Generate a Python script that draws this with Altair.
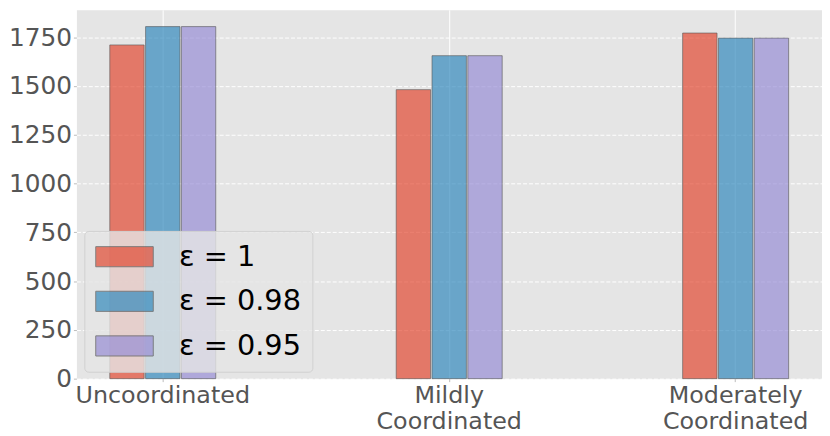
import altair as alt
import pandas as pd

categories = ["Uncoordinated", "Mildly\nCoordinated", "Moderately\nCoordinated"]
series = ["ε = 1", "ε = 0.98", "ε = 0.95"]
values_eps_1 = [1710, 1481, 1771]
values_eps_098 = [1804, 1655, 1745]
values_eps_095 = [1804, 1655, 1745]
colors = ["#E24A33", "#348ABD", "#988ED5"]
y_ticks = [0, 250, 500, 750, 1000, 1250, 1500, 1750]

rows = []
for s, vals in zip(series, [values_eps_1, values_eps_098, values_eps_095]):
    for c, v in zip(categories, vals):
        rows.append({"category": c, "series": s, "value": v})
df = pd.DataFrame(rows)

FONT = "DejaVu Sans"

chart = alt.Chart(df).mark_bar(
    fillOpacity=0.7, stroke="#555555", strokeOpacity=0.6, strokeWidth=1
).encode(
    x=alt.X(
        "category:N", sort=categories,
        scale=alt.Scale(paddingInner=0.625, paddingOuter=0.114),
        axis=alt.Axis(
            title=None, labelAngle=0, labelExpr="split(datum.label, '\\n')",
            labelFont=FONT, labelFontSize=24, labelColor="#555555",
            labelLineHeight=26, labelPadding=2, tickSize=3, tickColor="#bbbbbb",
            domain=False, grid=True, gridColor="white", gridWidth=1,
            bandPosition=0.5,
        ),
    ),
    xOffset=alt.XOffset("series:N", sort=series,
                        scale=alt.Scale(paddingInner=0.04, paddingOuter=0.02)),
    y=alt.Y(
        "value:Q", scale=alt.Scale(domain=[0, 1890], nice=False),
        axis=alt.Axis(
            title=None, values=y_ticks, format="d", labelFont=FONT, labelFontSize=25,
            labelColor="#555555", labelPadding=2, tickSize=3, tickColor="#bbbbbb",
            domain=False, grid=True, gridColor="white", gridWidth=1, gridDash=[4, 2],
        ),
    ),
    color=alt.Color(
        "series:N", sort=series,
        scale=alt.Scale(domain=series, range=colors),
        legend=alt.Legend(
            title=None, orient="none", legendX=8, legendY=223,
            symbolType="M-2,-0.7L2,-0.7L2,0.7L-2,0.7Z",
            symbolSize=841, symbolOffset=14.5, symbolOpacity=0.7,
            symbolStrokeWidth=1, symbolStrokeColor="#555555",
            labelFont=FONT, labelFontSize=29, labelColor="black",
            labelOffset=40, rowPadding=15, padding=11,
            fillColor="rgba(229,229,229,0.8)", strokeColor="#d0d0d0",
            cornerRadius=4,
        ),
    ),
).properties(
    width=752, height=372,
    padding={"left": 0, "top": 0, "right": 0, "bottom": 0},
).configure_view(fill="#E5E5E5", stroke="transparent")

chart.save("out.html", embed_options={"renderer": "svg", "actions": False})
